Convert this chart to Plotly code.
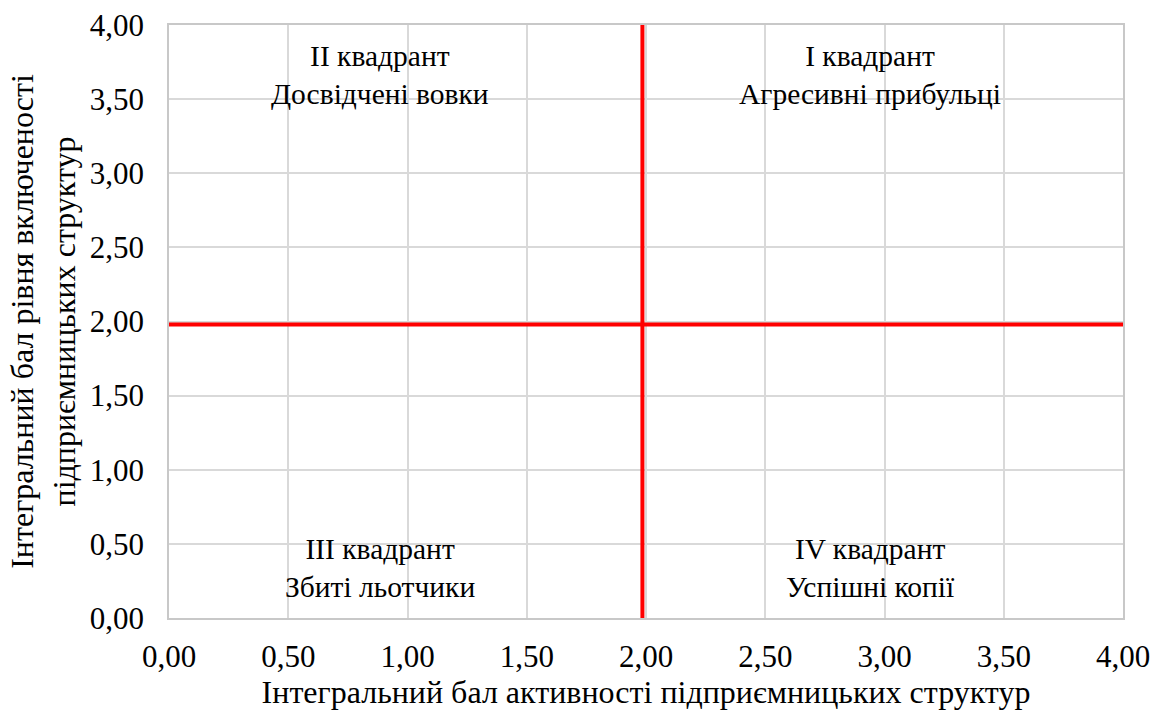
import plotly.graph_objects as go

x_ticks = [0, 0.5, 1, 1.5, 2, 2.5, 3, 3.5, 4]
x_labels = ["0,00", "0,50", "1,00", "1,50", "2,00", "2,50", "3,00", "3,50", "4,00"]
y_ticks = x_ticks
y_labels = x_labels

# red dividing lines
h_line_x = [0, 4]
h_line_y = [1.98, 1.98]
v_line_x = [1.985, 1.985]
v_line_y = [0, 4]

quad_text = ["I квадрант<br>Агресивні прибульці", "II квадрант<br>Досвідчені вовки",
             "III квадрант<br>Збиті льотчики", "IV квадрант<br>Успішні копії"]
quad_x = [2.94, 0.885, 0.885, 2.94]
quad_y = [3.66, 3.66, 0.34, 0.34]

FONT = "Liberation Serif"

fig = go.Figure()
fig.add_trace(go.Scatter(x=h_line_x, y=h_line_y, mode="lines",
                         line=dict(color="#ff0000", width=4), showlegend=False, hoverinfo="skip"))
fig.add_trace(go.Scatter(x=v_line_x, y=v_line_y, mode="lines",
                         line=dict(color="#ff0000", width=4), showlegend=False, hoverinfo="skip"))

for t, x, y in zip(quad_text, quad_x, quad_y):
    fig.add_annotation(x=x, y=y, text=t, showarrow=False,
                       font=dict(family=FONT, size=29.5, color="black"), align="center")

axis_common = dict(range=[0, 4], showgrid=True, gridcolor="#d9d9d9", gridwidth=1.5,
                   zeroline=False, showline=True, linecolor="#c8c8c8", linewidth=1.5,
                   mirror=True, ticks="", automargin=False,
                   tickfont=dict(family=FONT, size=31, color="black"))

fig.update_xaxes(**axis_common, tickvals=x_ticks, ticktext=x_labels, ticklabelstandoff=10,
                 title=dict(text="Інтегральний бал активності підприємницьких структур",
                            font=dict(family=FONT, size=32, color="black"), standoff=8))
fig.update_yaxes(**axis_common, tickvals=y_ticks, ticktext=y_labels, ticklabelstandoff=17,
                 title=dict(text="Інтегральний бал рівня включеності<br>підприємницьких структур",
                            font=dict(family=FONT, size=32, color="black"), standoff=5))

fig.update_layout(width=1155, height=716, margin=dict(l=169, r=32, t=25, b=98),
                  plot_bgcolor="white", paper_bgcolor="white", showlegend=False)

# remove the default 8px page margin so the figure sits at the window origin
fig.write_html("out.html", config={"displayModeBar": False},
               post_script="document.body.style.margin='0';")
